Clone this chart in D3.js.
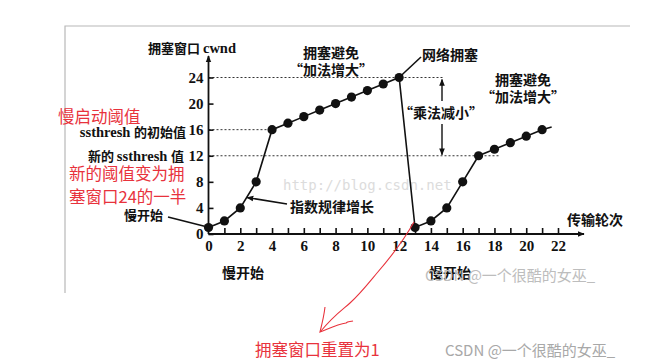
<html>
<head>
<meta charset="utf-8">
<style>
body { margin: 0; background: #fff; }
svg { display: block; }
.cn { font-family: "Noto Sans CJK SC", sans-serif; font-weight: 700; fill: #111; }
.lat { font-family: "Liberation Serif", serif; font-weight: 700; }
.axis path, .axis line { stroke: #111; stroke-width: 1.6; fill: none; }
.axis text { font-family: "Liberation Serif", serif; font-weight: 700; font-size: 15px; fill: #111; }
.red { font-family: "Noto Sans CJK SC", sans-serif; fill: #e8323c; font-size: 16.5px; }
.wm { font-family: "Noto Sans CJK SC", sans-serif; fill: #a8a8a8; font-size: 15px; }
</style>
</head>
<body>
<div id="chart"></div>
<script src="https://cdn.jsdelivr.net/npm/d3@7"></script>
<script>
// transmission rounds and congestion window
var rounds = [0, 1, 2, 3, 4, 5, 6, 7, 8, 9, 10, 11, 12, 13, 14, 15, 16, 17, 18, 19, 20, 21];
var cwnd   = [1, 2, 4, 8, 16, 17, 18, 19, 20, 21, 22, 23, 24, 1, 2, 4, 8, 12, 13, 14, 15, 16];
var yTicks = [0, 4, 8, 12, 16, 20, 24];
var xTicks = [0, 2, 4, 6, 8, 10, 12, 14, 16, 18, 20, 22];
var tail = {round: 21.6, cwnd: 16.4};   // line runs a bit past the last dot

var width = 650, height = 361;

var svg = d3.select("#chart").append("svg")
    .attr("width", width)
    .attr("height", height);

var defs = svg.append("defs");
defs.append("marker")
    .attr("id", "arr")
    .attr("viewBox", "0 0 10 10")
    .attr("refX", 9).attr("refY", 5)
    .attr("markerWidth", 7).attr("markerHeight", 7)
    .attr("markerUnits", "userSpaceOnUse")
    .attr("orient", "auto")
  .append("path")
    .attr("d", "M0,1 L10,5 L0,9 Z")
    .attr("fill", "#111");

var x = d3.scaleLinear().domain([0, 22]).range([208.5, 558]);
var y = d3.scaleLinear().domain([0, 24]).range([234, 77.5]);

// scan frame
svg.append("path")
    .attr("d", "M65,293 L65,26 L630,26")
    .attr("fill", "none")
    .attr("stroke", "#b8b8b8")
    .attr("stroke-width", 1.2);

// watermark
svg.append("text")
    .attr("x", 283).attr("y", 190)
    .style("font-family", "DejaVu Sans Mono, monospace")
    .style("font-size", "14px")
    .style("fill", "#dcdcdc")
    .text("http://blog.csdn.net");

// dashed reference lines
var dashes = [[24, 14.8], [16, 4], [12, 18.3]];
svg.selectAll(".dash")
    .data(dashes)
    .enter().append("line")
    .attr("x1", x(0)).attr("x2", function(d) { return x(d[1]); })
    .attr("y1", function(d) { return y(d[0]); })
    .attr("y2", function(d) { return y(d[0]); })
    .attr("stroke", "#333")
    .attr("stroke-width", 1)
    .attr("stroke-dasharray", "2,2");

// axes
var yAxis = d3.axisLeft(y).tickValues(yTicks).tickSizeInner(-5).tickSizeOuter(0).tickPadding(5);
var gy = svg.append("g").attr("class", "axis").attr("transform", "translate(" + x(0) + ",0)").call(yAxis);
gy.select(".domain").remove();

var xAxis = d3.axisBottom(x).tickValues(d3.range(0, 23)).tickSizeInner(-6).tickSizeOuter(0).tickPadding(6)
    .tickFormat(function(d) { return xTicks.indexOf(d) >= 0 ? d : ""; });
var gx = svg.append("g").attr("class", "axis").attr("transform", "translate(0," + y(0) + ")").call(xAxis);
gx.select(".domain").remove();
gx.selectAll(".tick").filter(function(d) { return d === 0; }).select("line").remove();

svg.append("line")
    .attr("x1", x(0)).attr("y1", y(0)).attr("x2", x(0)).attr("y2", 56)
    .attr("stroke", "#111").attr("stroke-width", 1.8)
    .attr("marker-end", "url(#arr)");
svg.append("line")
    .attr("x1", x(0)).attr("y1", y(0)).attr("x2", 584).attr("y2", y(0))
    .attr("stroke", "#111").attr("stroke-width", 1.8)
    .attr("marker-end", "url(#arr)");

// cwnd curve
var pts = rounds.map(function(r, i) { return {r: r, c: cwnd[i]}; });
var line = d3.line().x(function(d) { return x(d.r); }).y(function(d) { return y(d.c); });
svg.append("path")
    .datum(pts.concat([{r: tail.round, c: tail.cwnd}]))
    .attr("d", line)
    .attr("fill", "none")
    .attr("stroke", "#111")
    .attr("stroke-width", 1.6);

svg.selectAll(".dot")
    .data(pts)
    .enter().append("circle")
    .attr("cx", function(d) { return x(d.r); })
    .attr("cy", function(d) { return y(d.c); })
    .attr("r", 4.6)
    .attr("fill", "#111");

// "乘法减小" double arrow
svg.append("line")
    .attr("x1", 442).attr("y1", 101).attr("x2", 442).attr("y2", y(24) + 2)
    .attr("stroke", "#111").attr("stroke-width", 1.4).attr("marker-end", "url(#arr)");
svg.append("line")
    .attr("x1", 442).attr("y1", 124).attr("x2", 442).attr("y2", y(12) - 1)
    .attr("stroke", "#111").attr("stroke-width", 1.4).attr("marker-end", "url(#arr)");

// leader lines
svg.append("line")
    .attr("x1", x(12) + 1).attr("y1", y(24) - 1).attr("x2", 421).attr("y2", 57)
    .attr("stroke", "#111").attr("stroke-width", 1.6);
svg.append("line")
    .attr("x1", 168).attr("y1", 217).attr("x2", x(0) - 3).attr("y2", y(1) - 1)
    .attr("stroke", "#111").attr("stroke-width", 1.6);
svg.append("line")
    .attr("x1", 287).attr("y1", 204).attr("x2", 247).attr("y2", 197.5)
    .attr("stroke", "#111").attr("stroke-width", 1.6).attr("marker-end", "url(#arr)");

// black labels; parts flagged true are set in serif
var labels = [
  {p: [["拥塞窗口 ", false], ["cwnd", true]], x: 148, y: 53, a: "start", s: 13},
  {p: [["ssthresh ", true], ["的初始值", false]], x: 186, y: 137, a: "end", s: 13},
  {p: [["新的 ", false], ["ssthresh ", true], ["值", false]], x: 184, y: 161, a: "end", s: 13},
  {p: [["慢开始", false]], x: 124, y: 220, a: "start", s: 13},
  {p: [["指数规律增长", false]], x: 290, y: 212, a: "start", s: 14},
  {p: [["拥塞避免", false]], x: 331, y: 58, a: "middle", s: 14},
  {p: [["“加法增大”", false]], x: 331, y: 75, a: "middle", s: 14},
  {p: [["网络拥塞", false]], x: 422, y: 60, a: "start", s: 14},
  {p: [["“乘法减小”", false]], x: 441, y: 118, a: "middle", s: 14},
  {p: [["拥塞避免", false]], x: 523, y: 85, a: "middle", s: 14},
  {p: [["“加法增大”", false]], x: 523, y: 102, a: "middle", s: 14},
  {p: [["传输轮次", false]], x: 567, y: 225, a: "start", s: 14},
  {p: [["慢开始", false]], x: 243, y: 278, a: "middle", s: 14},
  {p: [["慢开始", false]], x: 450, y: 278, a: "middle", s: 14}
];
var lbl = svg.selectAll(".lbl")
    .data(labels)
    .enter().append("text")
    .attr("class", "cn")
    .attr("x", function(d) { return d.x; })
    .attr("y", function(d) { return d.y; })
    .attr("text-anchor", function(d) { return d.a; })
    .style("font-size", function(d) { return d.s + "px"; });
lbl.selectAll("tspan")
    .data(function(d) { return d.p; })
    .enter().append("tspan")
    .attr("class", function(d) { return d[1] ? "lat" : null; })
    .style("font-size", function(d) { return d[1] ? "14.5px" : null; })
    .text(function(d) { return d[0]; });

// red notes
var redNotes = [
  {t: "慢启动阈值", x: 58, y: 123},
  {t: "新的阈值变为拥", x: 69, y: 180},
  {t: "塞窗口24的一半", x: 69, y: 203},
  {t: "拥塞窗口重置为1", x: 255, y: 356}
];
svg.selectAll(".rn")
    .data(redNotes)
    .enter().append("text")
    .attr("class", "red")
    .attr("x", function(d) { return d.x; })
    .attr("y", function(d) { return d.y; })
    .text(function(d) { return d.t; });

// hand drawn red arrow
svg.append("path")
    .attr("d", "M414,222 C405,238 390,258 377,273 C367,285 360,294 350,303 C342,310 333,316 321,331")
    .attr("fill", "none").attr("stroke", "#e8323c").attr("stroke-width", 1.1);
svg.append("path")
    .attr("d", "M325,307 C324,316 322,324 320,332 C330,328 338,324 346,323 C348,321 350,322 353,321")
    .attr("fill", "none").attr("stroke", "#e8323c").attr("stroke-width", 1.1);

// csdn marks
svg.append("text").attr("class", "wm")
    .attr("x", 425).attr("y", 281)
    .style("fill", "#bdbdbd")
    .text("CSDN @一个很酷的女巫_");
svg.append("text").attr("class", "wm")
    .attr("x", 445).attr("y", 356)
    .text("CSDN @一个很酷的女巫_");
</script>
</body>
</html>
